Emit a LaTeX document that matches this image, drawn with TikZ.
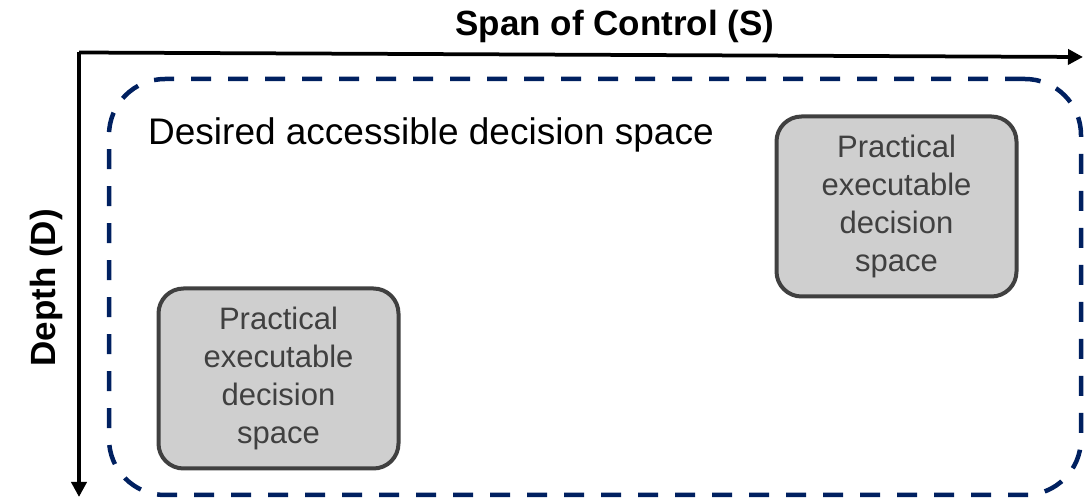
\documentclass[tikz,border=0pt]{standalone}
\usepackage{fontspec}
\setmainfont{Liberation Sans}
\usetikzlibrary{arrows.meta}
\definecolor{navy}{RGB}{0,32,96}
\definecolor{boxfill}{RGB}{207,207,207}
\definecolor{boxline}{RGB}{64,64,64}
\tikzset{
  axis/.style={line width=3.75pt, draw=black, -{Triangle[length=15pt,width=15pt]}},
  axislabel/.style={font=\fontsize{35}{42}\selectfont\bfseries, inner sep=0pt},
  region/.style={draw=navy, line width=4.5pt, dash pattern=on 20pt off 17pt,
    rounded corners=56pt, minimum width=972pt, minimum height=416pt, inner sep=0pt},
  regionlabel/.style={font=\fontsize{37}{44}\selectfont, inner sep=0pt},
  practical/.style={draw=boxline, fill=boxfill, line width=4pt, rounded corners=25pt,
    minimum width=240pt, minimum height=180pt, align=center, text=boxline,
    font=\fontsize{31}{38}\selectfont, inner sep=0pt}
}
\begin{document}
\begin{tikzpicture}[x=1pt,y=1pt]
\useasboundingbox (0,0) rectangle (1090,500);

% axes
\coordinate (origin) at (79,447.5);
\coordinate (xend) at (1083,443);
\coordinate (yend) at (79,3);
\draw[axis] (origin) -- (xend);
\draw[axis] (origin) -- (yend);
\node[axislabel, anchor=base] (xlabel) at (615,464) {Span of Control (S)};
\node[axislabel, anchor=base, rotate=90] (ylabel) at (55,212) {Depth (D)};

% desired accessible region
\node[region] (desired) at (595,213) {};
\node[regionlabel, anchor=base west] (desiredlabel) at (148,355) {Desired accessible decision space};

% practical executable regions
\node[practical] (pracA) at (896.5,293.5) {Practical\\executable\\decision\\space};
\node[practical] (pracB) at (278.5,121.5) {Practical\\executable\\decision\\space};
\end{tikzpicture}
\end{document}
